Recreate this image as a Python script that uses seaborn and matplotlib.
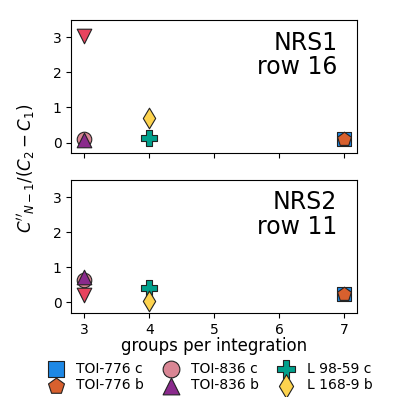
import matplotlib
matplotlib.use('Agg')
import matplotlib.pyplot as plt
import seaborn as sns
import pandas as pd

# planets and how they are drawn
planets = ['TOI-776 c', 'TOI-776 b', 'TOI-836 c', 'TOI-836 b', 'L 98-59 c', 'L 168-9 b', 'other']
markers = ['s', 'p', 'o', '^', 'P', 'd', 'v']
colors = ['#1E88E5', '#D8602E', '#D98694', '#8A2A8C', '#00A08C', '#FDD34E', '#E8435E']

# groups per integration for each planet
ngroups = [7, 7, 3, 3, 4, 4, 3]

# C''_{N-1}/(C2-C1) per detector
nrs1_vals = [0.10, 0.10, 0.10, 0.08, 0.12, 0.70, 3.05]
nrs2_vals = [0.24, 0.24, 0.63, 0.72, 0.42, 0.05, 0.20]

panels = [('NRS1\nrow 16', nrs1_vals), ('NRS2\nrow 11', nrs2_vals)]

sns.set_style('ticks')
plt.rcParams['font.family'] = ['DejaVu Sans']
plt.rcParams.update({'text.color': 'black', 'axes.labelcolor': 'black',
                     'xtick.color': 'black', 'ytick.color': 'black',
                     'axes.edgecolor': 'black'})

fig, axes = plt.subplots(2, 1, figsize=(3.97, 3.97), dpi=100, sharex=True)
fig.subplots_adjust(left=0.18, right=0.9, top=0.95, bottom=0.212, hspace=0.2)

for ax, (title, vals) in zip(axes, panels):
    df = pd.DataFrame({'planet': planets, 'ngroups': ngroups, 'val': vals})
    for i, row in df.iterrows():
        sns.scatterplot(x=[row['ngroups']], y=[row['val']], ax=ax,
                        marker=markers[i], color=colors[i], s=110 if markers[i] != 'P' else 130,
                        edgecolor='#222222', linewidth=0.8,
                        label=row['planet'] if row['planet'] != 'other' else None,
                        legend=False, zorder=3)
    ax.set_xlim(2.8, 7.2)
    ax.set_ylim(-0.3, 3.5)
    ax.set_yticks([0, 1, 2, 3])
    ax.set_xticks([3, 4, 5, 6, 7])
    ax.tick_params(labelsize=10)
    ax.text(0.93, 0.92, title, transform=ax.transAxes, ha='right', va='top',
            fontsize=17, linespacing=1.05)
    ax.set_xlabel('')
    ax.set_ylabel('')

axes[1].set_xlabel('groups per integration', fontsize=12, labelpad=0)
fig.text(0.065, 0.575, r"$C''_{N-1}/(C_2 - C_1)$", rotation=90, ha='center', va='center',
         fontsize=12)

handles, labels = axes[0].get_legend_handles_labels()
fig.legend(handles, labels, loc='lower center', ncol=3, frameon=False,
           bbox_to_anchor=(0.525, -0.02), fontsize=10, columnspacing=1.1,
           handletextpad=0.7, handlelength=1.6, labelspacing=0.2, markerscale=1.15)

fig.savefig('out.png', dpi=100)
